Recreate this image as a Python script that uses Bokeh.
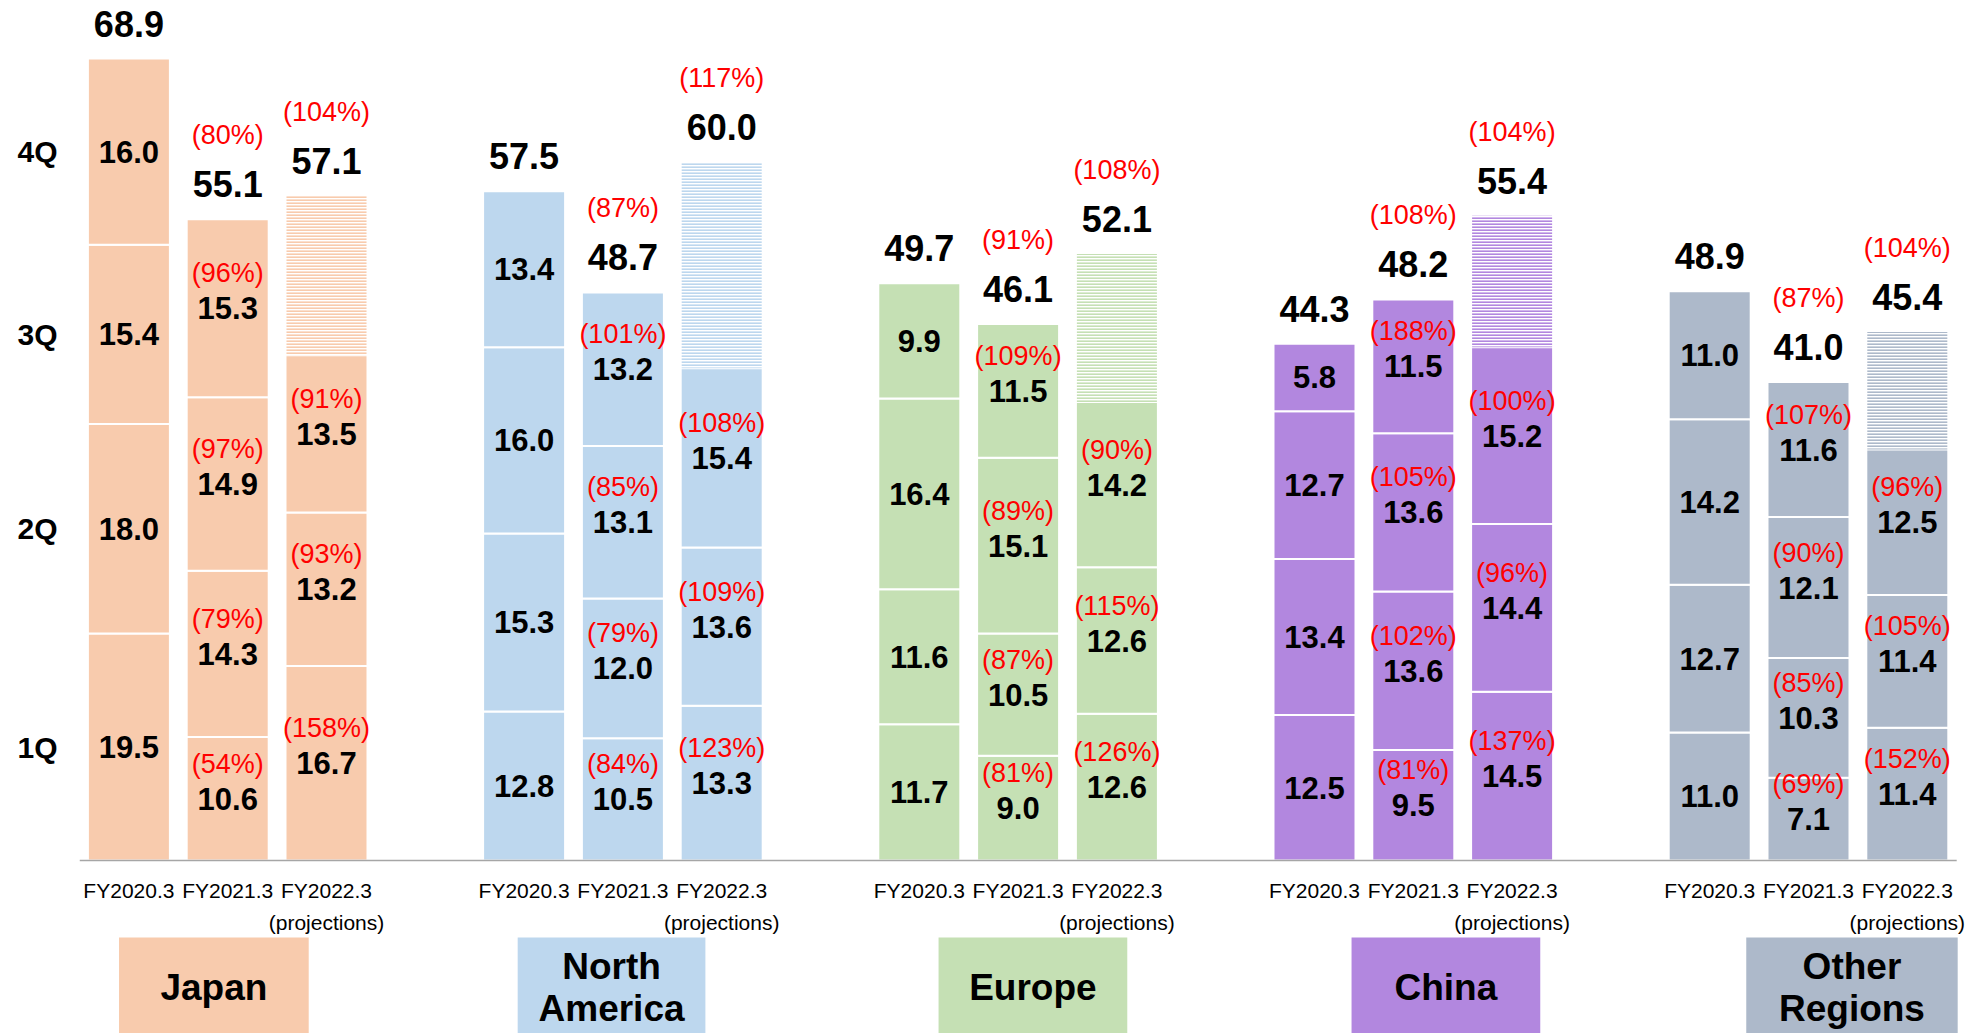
from bokeh.plotting import figure
from bokeh.models import Range1d, FixedTicker, CustomJSTickFormatter, ColumnDataSource
from bokeh.embed import file_html
from bokeh.resources import INLINE
from bokeh.core.properties import value

# ---------------- data ----------------
regions = ["Japan", "North America", "Europe", "China", "Other Regions"]
region_labels = ["Japan", "North\nAmerica", "Europe", "China", "Other\nRegions"]
years = ["FY2020.3", "FY2021.3", "FY2022.3"]
quarter_names = ["1Q", "2Q", "3Q", "4Q"]

# quarterly sales (1Q..4Q), per region
fy2020_q = [
    [19.5, 18.0, 15.4, 16.0],
    [12.8, 15.3, 16.0, 13.4],
    [11.7, 11.6, 16.4, 9.9],
    [12.5, 13.4, 12.7, 5.8],
    [11.0, 12.7, 14.2, 11.0],
]
fy2021_q = [
    [10.6, 14.3, 14.9, 15.3],
    [10.5, 12.0, 13.1, 13.2],
    [9.0, 10.5, 15.1, 11.5],
    [9.5, 13.6, 13.6, 11.5],
    [7.1, 10.3, 12.1, 11.6],
]
fy2022_q = [  # 1Q..3Q actual, 4Q is projection (total - sum)
    [16.7, 13.2, 13.5],
    [13.3, 13.6, 15.4],
    [12.6, 12.6, 14.2],
    [14.5, 14.4, 15.2],
    [11.4, 11.4, 12.5],
]
fy2020_total = [68.9, 57.5, 49.7, 44.3, 48.9]
fy2021_total = [55.1, 48.7, 46.1, 48.2, 41.0]
fy2022_total = [57.1, 60.0, 52.1, 55.4, 45.4]

fy2021_yoy_q = [
    [54, 79, 97, 96],
    [84, 79, 85, 101],
    [81, 87, 89, 109],
    [81, 102, 105, 188],
    [69, 85, 90, 107],
]
fy2021_yoy_total = [80, 87, 91, 108, 87]
fy2022_yoy_q = [
    [158, 93, 91],
    [123, 109, 108],
    [126, 115, 90],
    [137, 96, 100],
    [152, 105, 96],
]
fy2022_yoy_total = [104, 117, 108, 104, 104]

# ---------------- style ----------------
colors = ["#F8CBAD", "#BDD7EE", "#C5E0B4", "#B287DF", "#ADB9CA"]
box_shift = [-0.14, -0.115, 0.15, 0.33, 0.44]
box_width = [1.92, 1.90, 1.91, 1.91, 2.14]
FONT = value("Liberation Sans")
PPU = 11.64          # pixels per unit of value
UNIT_PX = 98.8       # pixels per bar slot
W, H = 1985, 1033
BASE = 860           # baseline pixel row
LEFT = 79            # frame left edge
BAR_W = 0.83
N_SLOTS = len(regions) * 4 - 1

def px(n):
    return n / PPU

p = figure(width=W, height=H, output_backend="svg", toolbar_location=None,
           x_range=Range1d(0, (W - LEFT) / UNIT_PX), y_range=Range1d(-px(H - BASE), px(BASE)),
           x_axis_location=None, min_border_left=LEFT, min_border_right=0,
           min_border_top=0, min_border_bottom=0)
p.outline_line_color = None
p.grid.visible = False
p.background_fill_color = "white"
p.border_fill_color = "white"

solid = dict(x=[], bottom=[], top=[], color=[])
hatch = dict(x=[], bottom=[], top=[], color=[])
num = dict(x=[], y=[], t=[])
pct = dict(x=[], y=[], t=[])
tot = dict(x=[], y=[], t=[])
fy = dict(x=[], y=[], t=[])

for g, reg in enumerate(regions):
    series = [(fy2020_q[g], fy2020_total[g], None, None),
              (fy2021_q[g], fy2021_total[g], fy2021_yoy_q[g], fy2021_yoy_total[g]),
              (fy2022_q[g], fy2022_total[g], fy2022_yoy_q[g], fy2022_yoy_total[g])]
    for i, (qs, total, yq, yt) in enumerate(series):
        x = g * 4 + i + 0.5
        base = 0.0
        for k, v in enumerate(qs):
            solid["x"].append(x); solid["bottom"].append(base); solid["top"].append(base + v)
            solid["color"].append(colors[g])
            c = base + v / 2
            num["x"].append(x); num["y"].append(c); num["t"].append(f"{v:.1f}")
            if yq is not None:
                pct["x"].append(x); pct["y"].append(c + px(35)); pct["t"].append(f"({yq[k]}%)")
            base += v
        top = base
        if i == 2:
            hatch["x"].append(x); hatch["bottom"].append(base); hatch["top"].append(total)
            hatch["color"].append(colors[g])
            top = total
        tot["x"].append(x); tot["y"].append(top + px(35)); tot["t"].append(f"{total:.1f}")
        if yt is not None:
            pct["x"].append(x); pct["y"].append(top + px(35) + px(49)); pct["t"].append(f"({yt}%)")
        fy["x"].append(x); fy["y"].append(-px(30)); fy["t"].append(years[i])
        if i == 2:
            fy["x"].append(x); fy["y"].append(-px(62)); fy["t"].append("(projections)")

p.vbar(x="x", bottom="bottom", top="top", width=BAR_W, fill_color="color",
       line_color="white", line_width=2, source=ColumnDataSource(solid))
p.vbar(x="x", bottom="bottom", top="top", width=BAR_W - 0.02, fill_alpha=0,
       line_color=None, hatch_pattern="horizontal_line", hatch_color="color",
       hatch_scale=3, hatch_weight=2.2, source=ColumnDataSource(hatch))

# baseline
p.segment(x0=0, x1=N_SLOTS, y0=0, y1=0, line_color="#A6A6A6", line_width=1.5)

p.text(x="x", y="y", text="t", source=ColumnDataSource(num), text_font=FONT,
       text_font_style="bold", text_font_size="31px", text_color="black",
       text_align="center", text_baseline="middle")
p.text(x="x", y="y", text="t", source=ColumnDataSource(tot), text_font=FONT,
       text_font_style="bold", text_font_size="36px", text_color="black",
       text_align="center", text_baseline="middle")
p.text(x="x", y="y", text="t", source=ColumnDataSource(pct), text_font=FONT,
       text_font_size="27px", text_color="#FF0000",
       text_align="center", text_baseline="middle")
p.text(x="x", y="y", text="t", source=ColumnDataSource(fy), text_font=FONT,
       text_font_size="21px", text_color="black",
       text_align="center", text_baseline="middle")

# region name boxes
bx = dict(x=[g * 4 + 1.5 + box_shift[g] for g in range(len(regions))],
          w=box_width, color=colors, t=region_labels)
p.vbar(x="x", width="w", top=-px(77), bottom=-px(200), fill_color="color",
       line_color=None, source=ColumnDataSource(bx))
p.text(x="x", y=-px(127), text="t", source=ColumnDataSource(bx), text_font=FONT,
       text_font_style="bold", text_font_size="37px", text_color="black",
       text_align="center", text_baseline="middle", text_line_height=1.04)

# quarter labels on the left, at centres of the first bar's segments
first = fy2020_q[0]
centres = []
acc = 0.0
for v in first:
    centres.append(acc + v / 2)
    acc += v
p.yaxis.ticker = FixedTicker(ticks=centres)
p.yaxis.formatter = CustomJSTickFormatter(args=dict(labels=quarter_names),
                                          code="return labels[index];")
p.yaxis.axis_line_color = None
p.yaxis.major_tick_line_color = None
p.yaxis.minor_tick_line_color = None
p.yaxis.major_tick_out = 0
p.yaxis.major_tick_in = 0
p.yaxis.major_label_standoff = 22
p.yaxis.major_label_text_font = "Liberation Sans"
p.yaxis.major_label_text_font_style = "bold"
p.yaxis.major_label_text_font_size = "30px"
p.yaxis.major_label_text_color = "black"

open("out.html", "w").write(file_html(p, INLINE))
